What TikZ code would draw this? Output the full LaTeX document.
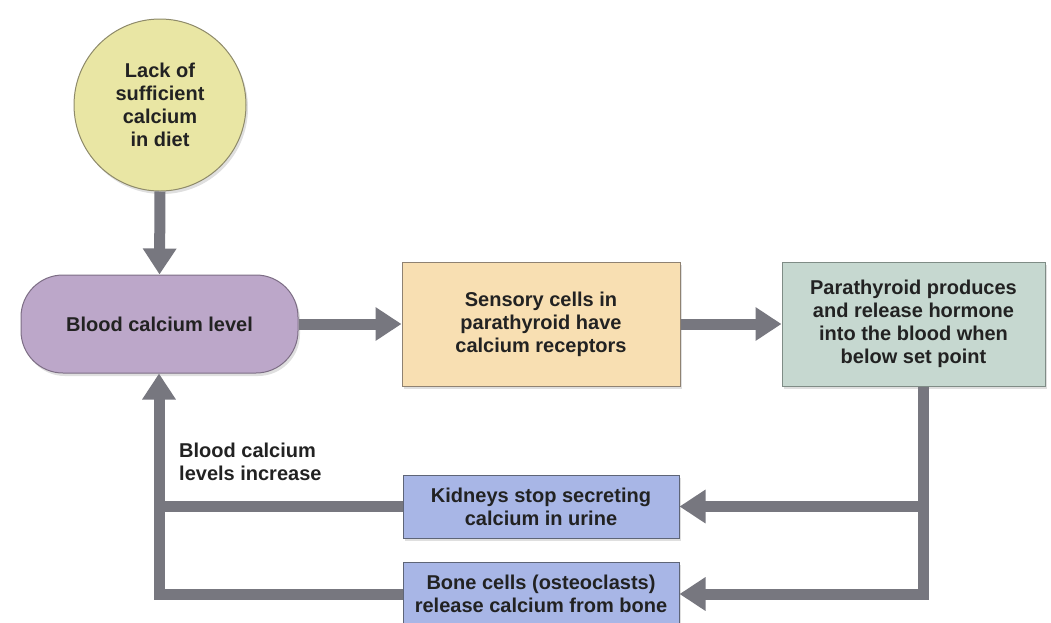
\documentclass[tikz,border=0pt]{standalone}
\usepackage{fontspec}
\setmainfont{Liberation Sans}
\usetikzlibrary{arrows.meta,shadows}
\definecolor{circfill}{HTML}{E9E6A4}
\definecolor{circdraw}{HTML}{8E8A6A}
\definecolor{pillfill}{HTML}{BCA7C9}
\definecolor{pilldraw}{HTML}{7D6E85}
\definecolor{peach}{HTML}{F8DFB2}
\definecolor{peachdraw}{HTML}{8F8272}
\definecolor{sage}{HTML}{C6D8D0}
\definecolor{sagedraw}{HTML}{7F8C86}
\definecolor{bluebox}{HTML}{A8B6E6}
\definecolor{bluedraw}{HTML}{5E6577}
\definecolor{arrowgray}{HTML}{77777F}
\definecolor{txt}{HTML}{222222}
\tikzset{
  base/.style={font=\bfseries\fontsize{20}{23}\selectfont, text=txt, align=center, line width=1pt,
    drop shadow={shadow xshift=2pt, shadow yshift=-3pt, opacity=0.25}},
  circnode/.style={base, circle, fill=circfill, draw=circdraw, minimum size=172pt, inner sep=0pt},
  pillnode/.style={base, rectangle, rounded corners=42pt, fill=pillfill, draw=pilldraw, minimum width=277pt, minimum height=98pt},
  boxnode/.style={base, rectangle, minimum width=#1, inner sep=0pt},
  flow/.style={draw=arrowgray, line width=11pt},
  flowarrow/.style={flow, -{Triangle[width=32pt,length=26pt]}},
  lbl/.style={font=\bfseries\fontsize{20}{23}\selectfont, text=txt, align=left, inner sep=0pt}
}
\begin{document}
\begin{tikzpicture}[x=1pt,y=-1pt]
\useasboundingbox (0,0) rectangle (1051,622);
\begin{scope}
\clip (0,0) rectangle (1051,622);
\node[circnode] (diet) at (160,105) {Lack of\\sufficient\\calcium\\in diet};
\node[pillnode] (blood) at (159.5,324) {Blood calcium level};
\node[boxnode=278pt, minimum height=124pt, fill=peach, draw=peachdraw] (sens) at (541,324) {Sensory cells in\\parathyroid have\\calcium receptors};
\node[boxnode=263pt, minimum height=124pt, fill=sage, draw=sagedraw] (para) at (913.5,324) {Parathyroid produces\\and release hormone\\into the blood when\\below set point};
\node[boxnode=276pt, minimum height=63pt, fill=bluebox, draw=bluedraw] (kid) at (541,506.5) {Kidneys stop secreting\\calcium in urine};
\node[boxnode=276pt, minimum height=64pt, fill=bluebox, draw=bluedraw] (bone) at (541,594) {Bone cells (osteoclasts)\\release calcium from bone};
\node[lbl, anchor=north west] (inc) at (179,443) {Blood calcium\\levels increase};

\coordinate (rtop) at (923,386.5);
\coordinate (rkid) at (923,506.5);
\coordinate (rbone) at (923,594);
\coordinate (lkid) at (159,506.5);
\coordinate (lbone) at (159,594);

\draw[flowarrow] (diet.south) -- (blood.north);
\draw[flowarrow] (blood.east) -- (sens.west);
\draw[flowarrow] (sens.east) -- (para.west);
\draw[flow] (rtop) -- ([yshift=5.5pt]rbone);
\draw[flowarrow] ([xshift=5.5pt]rkid) -- (kid.east);
\draw[flowarrow] ([xshift=5.5pt]rbone) -- (bone.east);
\draw[flow] (kid.west) -- ([xshift=-5.5pt]lkid);
\draw[flowarrow] (bone.west) -- (lbone) -- (lbone |- blood.south);
\end{scope}
\end{tikzpicture}
\end{document}
